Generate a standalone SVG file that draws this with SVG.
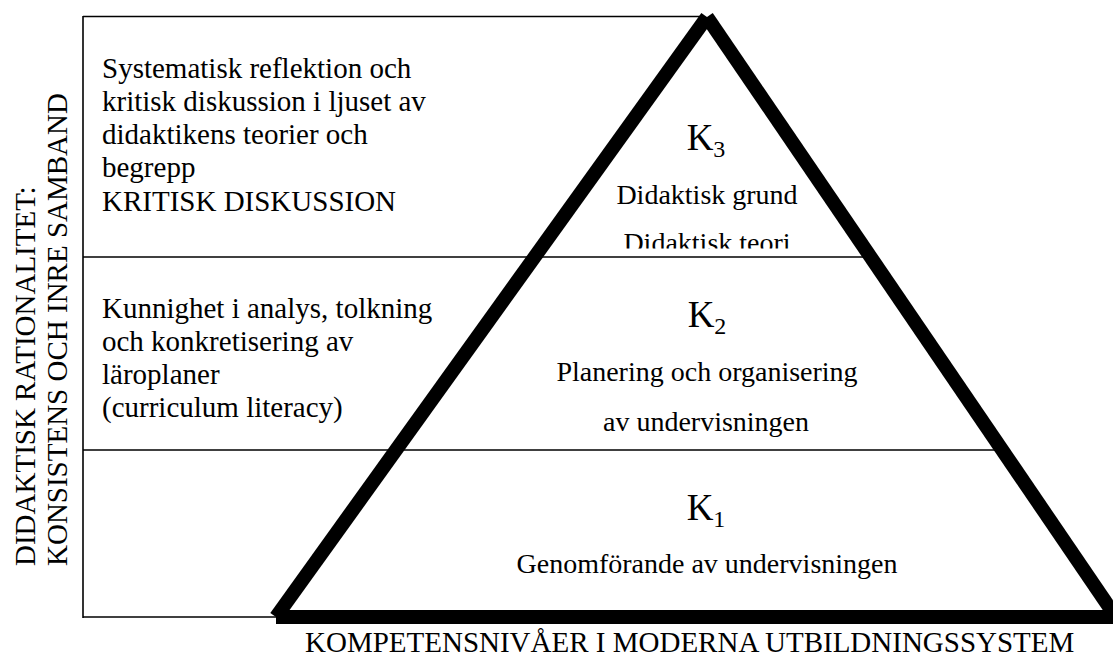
<svg xmlns="http://www.w3.org/2000/svg" width="1113" height="657" viewBox="0 0 1113 657" font-family="'Liberation Serif', 'Times New Roman', serif">
  <style>
    text { font-family: "Liberation Serif", "Times New Roman", serif; fill: #000; }
    .lbl { font-size: 29px; }
    .axis { font-size: 29px; }
    .pt { font-size: 28px; text-anchor: middle; }
    .k { font-size: 37px; text-anchor: middle; }
    .sub { font-size: 24px; }
    .thin { stroke: #000; stroke-width: 1.6; fill: none; }
    .thick { stroke: #000; stroke-width: 14; fill: none; stroke-linecap: butt; }
  </style>
  <defs>
    <clipPath id="clipTop">
      <rect x="560" y="0" width="300" height="248.5"/>
    </clipPath>
  </defs>
  <rect width="1113" height="657" fill="#fff"/>

  <g id="frame">
    <line class="thin" x1="83" y1="16.5" x2="703" y2="16.5"/>
    <line class="thin" x1="83" y1="16" x2="83" y2="618"/>
    <line class="thin" x1="83" y1="617" x2="280" y2="617"/>
    <line class="thin" x1="83" y1="257" x2="866" y2="257"/>
    <line class="thin" x1="83" y1="450" x2="995" y2="450"/>
  </g>

  <g id="pyramid">
    <line class="thick" x1="707" y1="17" x2="276" y2="617"/>
    <line class="thick" x1="707" y1="17" x2="1116" y2="617"/>
    <line class="thick" x1="276" y1="617" x2="1113" y2="617"/>
  </g>

  <g id="level3">
    <text class="k" x="706" y="150" font-family="'Liberation Serif', serif">K<tspan class="sub" dy="7">3</tspan></text>
    <text class="pt" x="707" y="204" font-family="'Liberation Serif', serif">Didaktisk grund</text>
    <text class="pt" x="707" y="252" clip-path="url(#clipTop)" font-family="'Liberation Serif', serif">Didaktisk teori</text>
  </g>

  <g id="level2">
    <text class="k" x="707" y="327" font-family="'Liberation Serif', serif">K<tspan class="sub" dy="7">2</tspan></text>
    <text class="pt" x="707" y="381" font-family="'Liberation Serif', serif">Planering och organisering</text>
    <text class="pt" x="706" y="431" font-family="'Liberation Serif', serif">av undervisningen</text>
  </g>

  <g id="level1">
    <text class="k" x="706" y="520" font-family="'Liberation Serif', serif">K<tspan class="sub" dy="7">1</tspan></text>
    <text class="pt" x="707" y="573" font-family="'Liberation Serif', serif">Genomförande av undervisningen</text>
  </g>

  <g id="desc3" font-family="'Liberation Serif', serif">
    <text class="lbl" x="102" y="78">Systematisk reflektion och</text>
    <text class="lbl" x="102" y="111">kritisk diskussion i ljuset av</text>
    <text class="lbl" x="102" y="144">didaktikens teorier och</text>
    <text class="lbl" x="102" y="177">begrepp</text>
    <text class="lbl" x="102" y="211">KRITISK DISKUSSION</text>
  </g>

  <g id="desc2" font-family="'Liberation Serif', serif">
    <text class="lbl" x="102" y="318">Kunnighet i analys, tolkning</text>
    <text class="lbl" x="102" y="351">och konkretisering av</text>
    <text class="lbl" x="102" y="384">läroplaner</text>
    <text class="lbl" x="102" y="417">(curriculum literacy)</text>
  </g>

  <g id="axis-y" font-family="'Liberation Serif', serif">
    <text class="axis" transform="translate(35,566) rotate(-90)">DIDAKTISK RATIONALITET:</text>
    <text class="axis" transform="translate(67,566) rotate(-90)">KONSISTENS OCH INRE SAMBAND</text>
  </g>

  <g id="axis-x" font-family="'Liberation Serif', serif">
    <text class="axis" x="305" y="652">KOMPETENSNIVÅER I MODERNA UTBILDNINGSSYSTEM</text>
  </g>
</svg>
